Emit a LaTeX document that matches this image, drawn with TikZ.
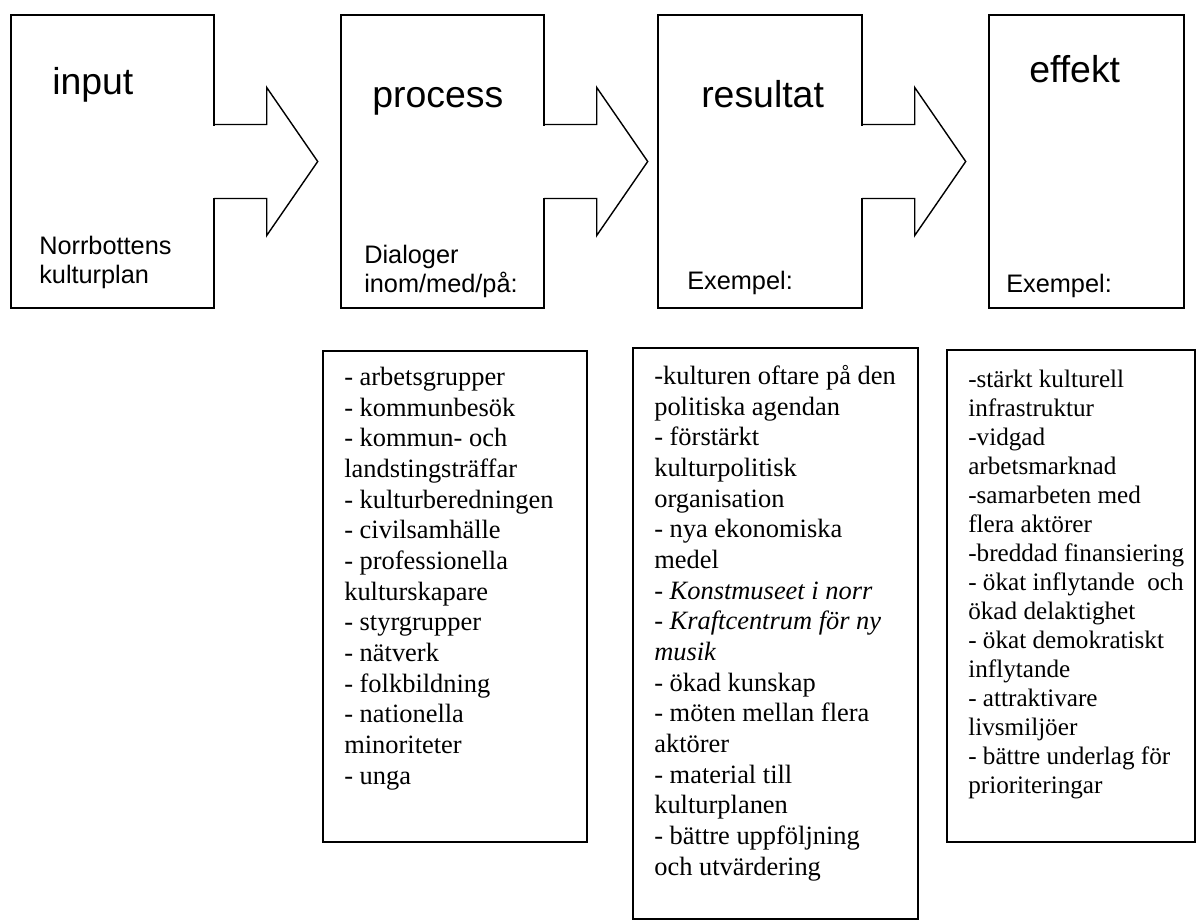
\documentclass[tikz,border=0pt]{standalone}
\usepackage{fontspec}
\setmainfont{Liberation Serif}
\setsansfont{Liberation Sans}
\usepackage{tikz}
\usetikzlibrary{calc}
\newlength{\px}
\setlength{\px}{0.025cm}

\begin{document}
\begin{tikzpicture}[x=0.025cm, y=-0.025cm,
  stage/.style={draw, line width=1pt, minimum width=203\px, minimum height=293\px, inner sep=0pt},
  listbox/.style={draw, line width=1pt, inner sep=0pt},
  headtext/.style={font=\sffamily\fontsize{26.6}{30}\selectfont, anchor=base west, inner sep=0pt},
  subtext/.style={font=\sffamily\fontsize{18}{20.5}\selectfont, anchor=base west, align=left, inner sep=0pt},
  listtext/.style={font=\fontsize{18.8}{21.8}\selectfont, anchor=base west, align=left, inner sep=0pt}]
  \useasboundingbox (0,0) rectangle (1200,920);

  % Stages
  \node[stage] (inp) at (112.5,161.5) {};
  \node[stage] (proc) at (442.5,161.5) {};
  \node[stage, minimum width=204\px] (res) at (760,161.5) {};
  \node[stage, minimum width=195\px] (eff) at (1086.5,161.5) {};

  % Block arrows between stages
  \foreach \a in {inp, proc, res} {
    \fill[white] ($(\a.east)+(-1.5,-36)$) rectangle ($(\a.east)+(1.5,36)$);
    \draw[line width=1pt, line cap=rect] ($(\a.east)+(0,-37)$) -- ++(52,0) -- ++(0,-37)
      -- ($(\a.east)+(103,0)$) -- ++(-51,74) -- ++(0,-37) -- ++(-52,0);
  }

  % Stage titles (base = last line)
  \node[headtext] (inpT) at (52,95) {input};
  \node[headtext] (procT) at (372,107) {process};
  \node[headtext] (resT) at (701,107) {resultat};
  \node[headtext] (effT) at (1029,82) {effekt};

  \node[subtext] (inpL) at (39,283) {Norrbottens\\kulturplan};
  \node[subtext] (procL) at (364,292) {Dialoger\\inom/med/på:};
  \node[subtext] (resL) at (687,289) {Exempel:};
  \node[subtext] (effL) at (1006,292) {Exempel:};

  % Lists
  \node[listbox, minimum width=264\px, minimum height=491\px] (procList) at (455,596.5) {};
  \node[listbox, minimum width=285\px, minimum height=571\px] (resList) at (775.5,633.5) {};
  \node[listbox, minimum width=248\px, minimum height=492\px] (effList) at (1071,596) {};

  \node[listtext] (procItems) at (344,784) {
    - arbetsgrupper\\
    - kommunbesök\\
    - kommun- och\\
    landstingsträffar\\
    - kulturberedningen\\
    - civilsamhälle\\
    - professionella\\
    kulturskapare\\
    - styrgrupper\\
    - nätverk\\
    - folkbildning\\
    - nationella\\
    minoriteter\\
    - unga
  };

  \node[listtext] (resItems) at (654,875) {
    -kulturen oftare på den\\
    politiska agendan\\
    - förstärkt\\
    kulturpolitisk\\
    organisation\\
    - nya ekonomiska\\
    medel\\
    - \textit{Konstmuseet i norr}\\
    - \textit{Kraftcentrum för ny}\\
    \textit{musik}\\
    - ökad kunskap\\
    - möten mellan flera\\
    aktörer\\
    - material till\\
    kulturplanen\\
    - bättre uppföljning\\
    och utvärdering
  };

  \node[listtext, font=\fontsize{17.9}{20.6}\selectfont] (effItems) at (968,793) {
    -stärkt kulturell\\
    infrastruktur\\
    -vidgad\\
    arbetsmarknad\\
    -samarbeten med\\
    flera aktörer\\
    -breddad finansiering\\
    - ökat inflytande\ \ och\\
    ökad delaktighet\\
    - ökat demokratiskt\\
    inflytande\\
    - attraktivare\\
    livsmiljöer\\
    - bättre underlag för\\
    prioriteringar
  };
\end{tikzpicture}
\end{document}
